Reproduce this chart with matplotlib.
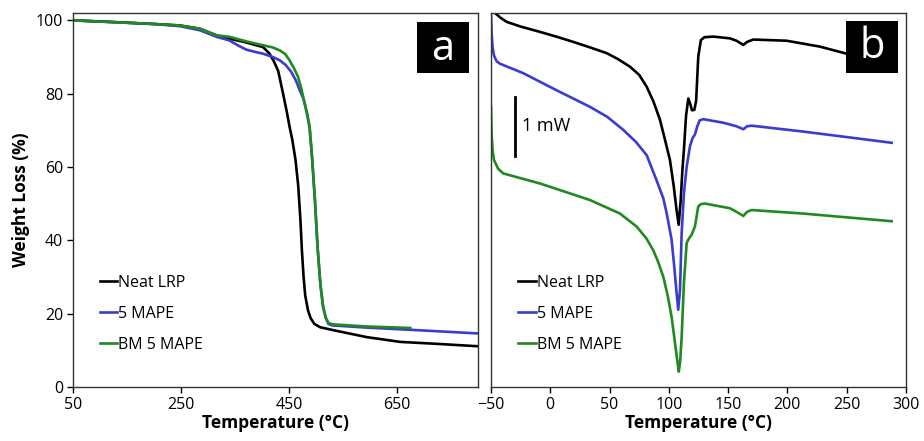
import matplotlib
matplotlib.use("Agg")
import matplotlib.pyplot as plt
from matplotlib.patches import Rectangle

plt.rcParams['font.family'] = ['Open Sans', 'DejaVu Sans']

# ---------- Panel a: TGA ----------
tga_labels = ["Neat LRP", "5 MAPE", "BM 5 MAPE"]
tga_colors = ["#000000", "#3b3bd0", "#1f8a1f"]

neat_T = [50, 130, 200, 248, 285, 316, 340, 370, 402, 414, 422, 430, 439, 446, 451, 456, 462, 467, 471, 474,
          477, 480, 485, 490, 497, 507.7, 532, 594, 656, 720, 801]
neat_W = [100, 99.5, 99.0, 98.6, 97.7, 95.9, 95.0, 94.0, 92.7, 90.9, 88.8, 86.2, 80.0, 75.0, 71.0, 67.5, 62, 55, 46, 37,
          30, 25, 21, 18.8, 17.2, 16.3, 15.5, 13.6, 12.3, 11.8, 11.1]

mape_T = [50, 200, 248, 285, 316, 340, 355, 371, 390, 402, 420, 433, 444, 454.4, 463, 470, 477, 482, 488, 493,
          498, 503, 508, 513, 518, 523, 530, 594, 674.6, 801]
mape_W = [100, 99.0, 98.4, 97.3, 95.5, 94.5, 93.2, 92.0, 91.3, 90.9, 90.0, 89.1, 87.8, 85.9, 83.5, 80.9, 78.5, 75.5, 70.9, 62,
          51, 38, 28.2, 22, 18.8, 17.2, 16.8, 16.2, 15.6, 14.6]

bm_T = [50, 200, 248, 285, 316, 340, 370, 402, 420, 433, 443, 451, 459, 466.7, 473, 479, 484, 488.3, 493, 498,
        503, 508, 513, 518, 523, 530, 594, 674.6]
bm_W = [100, 99.0, 98.6, 97.7, 95.9, 95.5, 94.3, 93.2, 92.6, 91.8, 90.8, 89.1, 87.0, 84.6, 81.3, 77.3, 74.3, 70.9, 62, 51,
        38, 28.2, 22, 19.0, 17.5, 17.1, 16.5, 16.1]

tga_xticks = [50, 250, 450, 650]
tga_yticks = [0, 20, 40, 60, 80, 100]

# ---------- Panel b: DSC (mW, arbitrary offset) ----------
dsc_neat_T = [-46.6, -42, -36.8, -25, -8.7, 5, 19.4, 33, 47.5, 57,
              67.2, 75, 81.3, 87, 92.5, 97, 100.9, 104, 106.5, 108.3,
              110, 111.5, 112.7, 114.5, 116.4, 118, 119.5, 121.5, 123, 124.8,
              127, 130, 137.5, 151.5, 157, 162.8, 166, 171.2, 199.3, 227.4,
              249.9, 287.9]
dsc_neat_H = [6.34, 6.26, 6.19, 6.11, 6.02, 5.94, 5.85, 5.76, 5.66, 5.56,
              5.43, 5.29, 5.09, 4.84, 4.53, 4.17, 3.85, 3.42, 3.0, 2.75,
              3.17, 3.7, 4.02, 4.6, 4.89, 4.80, 4.69, 4.70, 4.85, 5.6,
              5.88, 5.93, 5.94, 5.91, 5.87, 5.80, 5.85, 5.89, 5.87, 5.77,
              5.65, 5.45]

dsc_mape_T = [-50, -49.5, -48.6, -47.5, -45.2, -42.4, -22.8, 5.3, 33.4, 48,
              61.5, 72, 81.3, 89.7, 95.3, 98.1, 102.3, 104.5, 106.5, 107.9,
              109.4, 110.8, 112.7, 115, 117.8, 120, 122, 124, 126, 129,
              145.9, 157, 162.8, 166, 169.8, 213.3, 287.9]
dsc_mape_H = [6.34, 6.0, 5.75, 5.62, 5.52, 5.48, 5.32, 5.03, 4.75, 4.58,
              4.36, 4.16, 3.93, 3.50, 3.20, 2.95, 2.50, 2.05, 1.60, 1.31,
              1.64, 2.61, 3.28, 3.73, 4.08, 4.22, 4.28, 4.42, 4.52, 4.54,
              4.48, 4.42, 4.37, 4.42, 4.43, 4.33, 4.14]

dsc_bm_T = [-50, -49.5, -48.6, -47.5, -44, -39.6, -8.7, 33.4, 58.8, 72.8,
            81, 86.8, 91, 95.3, 99, 102.3, 104.2, 105.9, 107.3, 108.4,
            109.6, 110.8, 112.7, 115, 117, 119.2, 122, 124.8, 127, 130.4,
            151.5, 157, 162.8, 166, 169.8, 213.3, 287.9]
dsc_bm_H = [4.75, 4.30, 4.00, 3.85, 3.70, 3.62, 3.45, 3.17, 2.94, 2.72,
            2.52, 2.32, 2.12, 1.87, 1.55, 1.19, 0.90, 0.63, 0.42, 0.26,
            0.45, 0.85, 1.76, 2.44, 2.52, 2.58, 2.72, 3.06, 3.10, 3.11,
            3.03, 2.97, 2.90, 2.97, 3.00, 2.94, 2.81]

dsc_xticks = [-50, 0, 50, 100, 150, 200, 250, 300]

fig = plt.figure(figsize=(9.24, 4.41), dpi=100)
W, H = 924, 441
axa = fig.add_axes([73 / W, 1 - 387 / H, 405 / W, 374 / H])
axb = fig.add_axes([491 / W, 1 - 387 / H, 415 / W, 374 / H])

lw = 1.9
fs = 11.5
lab_fs = 12.5
leg_kw = dict(loc='lower left', bbox_to_anchor=(0.05, 0.074), frameon=False, fontsize=fs,
              handlelength=1.1, handletextpad=0.05, labelspacing=0.95, borderaxespad=0)

for T, Wt, lab, c in zip([neat_T, mape_T, bm_T], [neat_W, mape_W, bm_W], tga_labels, tga_colors):
    axa.plot(T, Wt, color=c, lw=lw, label=lab, solid_joinstyle='round')
axa.set_xlim(50, 800)
axa.set_ylim(0, 102)
axa.set_xticks(tga_xticks)
axa.set_yticks(tga_yticks)
axa.set_xlabel("Temperature (°C)", fontsize=lab_fs, fontweight='bold', labelpad=1)
axa.set_ylabel("Weight Loss (%)", fontsize=lab_fs, fontweight='bold', labelpad=4)
axa.tick_params(axis='both', direction='out', length=4, width=1, labelsize=fs, pad=3)
axa.legend(**leg_kw)
axa.add_patch(Rectangle((0.849, 0.840), 0.129, 0.136, transform=axa.transAxes,
                        facecolor='black', edgecolor='none', zorder=5))
axa.text(0.9135, 0.905, "a", transform=axa.transAxes, ha='center', va='center', fontsize=30,
         color='white', zorder=6)

for T, Hh, lab, c in zip([dsc_neat_T, dsc_mape_T, dsc_bm_T], [dsc_neat_H, dsc_mape_H, dsc_bm_H], tga_labels, tga_colors):
    axb.plot(T, Hh, color=c, lw=lw, label=lab, solid_joinstyle='round')
axb.set_xlim(-50, 300)
axb.set_ylim(0, 6.34)
axb.set_xticks(dsc_xticks)
axb.set_yticks([])
axb.set_xlabel("Temperature (°C)", fontsize=lab_fs, fontweight='bold', labelpad=1)
axb.tick_params(axis='x', direction='out', length=4, width=1, labelsize=fs, pad=3)
axb.legend(**leg_kw)
axb.plot([-30, -30], [3.92, 4.92], color='black', lw=2)
axb.text(-24, 4.42, "1 mW", fontsize=13, va='center', ha='left')
axb.add_patch(Rectangle((0.855, 0.840), 0.126, 0.139, transform=axb.transAxes,
                        facecolor='black', edgecolor='none', zorder=5))
axb.text(0.918, 0.91, "b", transform=axb.transAxes, ha='center', va='center', fontsize=30,
         color='white', zorder=6)

for ax in (axa, axb):
    for s in ax.spines.values():
        s.set_linewidth(1.0)
        s.set_color('#333333')

fig.savefig("out.png", dpi=100)
